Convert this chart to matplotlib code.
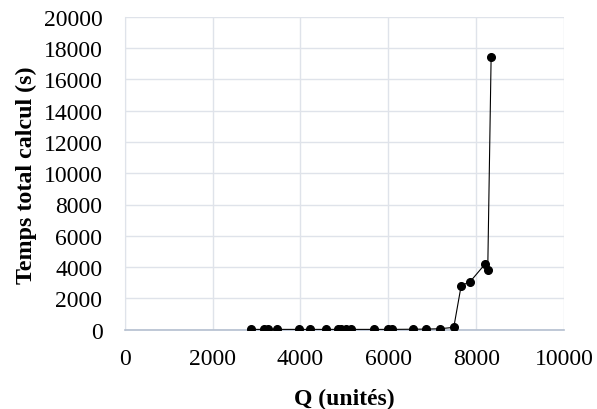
import matplotlib
matplotlib.use("Agg")
import matplotlib.pyplot as plt

# Q (unites) and total computation time (s)
q_values = [2864, 3166, 3264, 3468, 3968, 4227, 4575, 4855, 4932, 5030, 5159,
            5666, 5991, 6091, 6559, 6864, 7166, 7491, 7659, 7864, 8205, 8264, 8341]
temps = [20, 20, 20, 20, 20, 20, 20, 20, 20, 20, 20,
         20, 20, 20, 30, 40, 60, 150, 2810, 3070, 4200, 3815, 17400]

x_ticks = [0, 2000, 4000, 6000, 8000, 10000]
y_ticks = list(range(0, 20001, 2000))

plt.rcParams['font.family'] = ['Liberation Serif', 'DejaVu Serif']

fig = plt.figure(figsize=(5.97, 4.10), dpi=100)
ax = fig.add_axes([124.7 / 597, 1 - 330.7 / 410, (564 - 124.7) / 597, (330.7 - 17.7) / 410])

ax.plot(q_values, temps, color='black', linewidth=0.8, marker='o', markersize=5.5, zorder=3)

ax.set_xlim(0, 10000)
ax.set_ylim(0, 20000)
ax.set_xticks(x_ticks)
ax.set_yticks(y_ticks)
ax.tick_params(axis='y', length=0, labelsize=17, pad=16, colors='black')
ax.tick_params(axis='x', length=0, labelsize=17, pad=13, colors='black')
ax.grid(True, color='#dfe3ea', linewidth=1)
ax.set_axisbelow(True)

for side in ['top', 'right']:
    ax.spines[side].set_visible(False)
ax.spines['left'].set_color('#dfe3ea')
ax.spines['bottom'].set_color('#b4bfcf')
ax.spines['bottom'].set_linewidth(1.2)

ax.set_xlabel('Q (unités)', fontsize=17, fontweight='bold')
ax.set_ylabel('Temps total calcul (s)', fontsize=17.3, fontweight='bold')
ax.xaxis.set_label_coords(0.5, -0.185)
ax.yaxis.set_label_coords(-0.2, 0.497)

fig.savefig('out.png', dpi=100)
